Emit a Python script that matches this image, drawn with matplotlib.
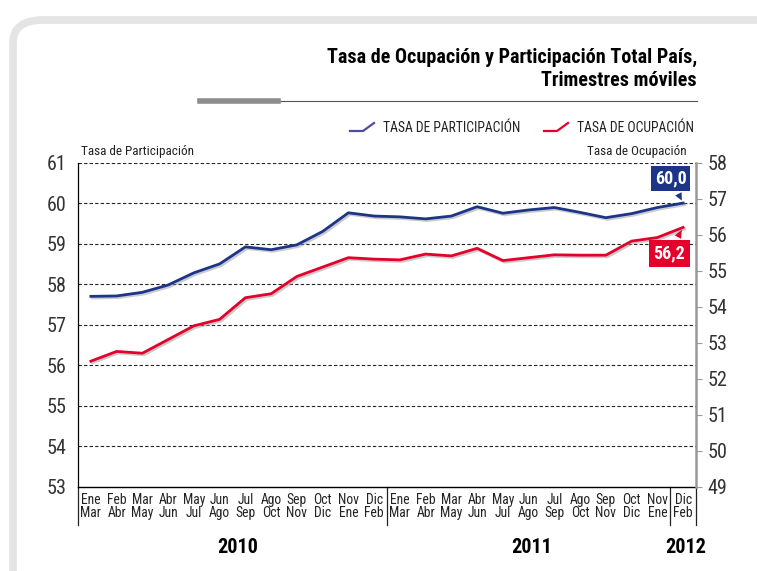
import matplotlib as mpl
import matplotlib.pyplot as plt
import matplotlib.patheffects as pe
from matplotlib.patches import FancyBboxPatch
from matplotlib.lines import Line2D
import numpy as np

mpl.rcParams.update({
    'font.family': ['Liberation Sans Narrow', 'Roboto Condensed', 'Roboto', 'DejaVu Sans'],
    'axes.unicode_minus': False,
})

# periodos (trimestres moviles)
mes_ini = ['Ene', 'Feb', 'Mar', 'Abr', 'May', 'Jun', 'Jul', 'Ago', 'Sep', 'Oct', 'Nov', 'Dic',
           'Ene', 'Feb', 'Mar', 'Abr', 'May', 'Jun', 'Jul', 'Ago', 'Sep', 'Oct', 'Nov', 'Dic']
mes_fin = ['Mar', 'Abr', 'May', 'Jun', 'Jul', 'Ago', 'Sep', 'Oct', 'Nov', 'Dic', 'Ene', 'Feb',
           'Mar', 'Abr', 'May', 'Jun', 'Jul', 'Ago', 'Sep', 'Oct', 'Nov', 'Dic', 'Ene', 'Feb']

# tasa de participacion (eje izquierdo)
participacion = [57.70, 57.71, 57.80, 57.98, 58.28, 58.50, 58.92, 58.85,
                 58.97, 59.30, 59.76, 59.68, 59.66, 59.61, 59.68, 59.91,
                 59.75, 59.83, 59.89, 59.77, 59.64, 59.74, 59.89, 60.0]
# tasa de ocupacion (eje derecho)
ocupacion = [52.49, 52.76, 52.71, 53.09, 53.47, 53.65, 54.25, 54.36,
             54.84, 55.10, 55.36, 55.32, 55.30, 55.46, 55.41, 55.62,
             55.28, 55.36, 55.44, 55.43, 55.43, 55.82, 55.92, 56.2]

anios = ['2010', '2011', '2012']
anio_pos = [5.7, 17.1, 23.1]   # posicion central de cada anio

azul = '#1c3589'
rojo = '#e4002b'

W, H = 757, 571
fig = plt.figure(figsize=(W / 100, H / 100), dpi=100)


def px(x, y):
    return (x / W, 1 - y / H)


# marco gris redondeado
marco = FancyBboxPatch(px(13, 600), 800 / W, 580 / H, transform=fig.transFigure,
                       boxstyle='round,pad=0,rounding_size=0.04',
                       facecolor='white', edgecolor='#e4e4e4', linewidth=5.5, zorder=-5)
fig.patches.append(marco)

# titulo
fig.text(*px(697, 57), 'Tasa de Ocupación y Participación Total País,',
         ha='right', va='center', fontsize=14.5, fontweight='bold')
fig.text(*px(697, 81), 'Trimestres móviles',
         ha='right', va='center', fontsize=14.5, fontweight='bold')
fig.lines.append(Line2D([200 / W, 697 / W], [1 - 101 / H] * 2, transform=fig.transFigure,
                        color='#555555', lw=0.8))
fig.lines.append(Line2D([200 / W, 278 / W], [1 - 101 / H] * 2, transform=fig.transFigure,
                        color='#8c8c8c', lw=4))

# leyenda manual
for (x0, col, txt) in [(350, '#4f4ca6', 'TASA DE PARTICIPACIÓN'),
                       (544, rojo, 'TASA DE OCUPACIÓN')]:
    xs = [x0, x0 + 13, x0 + 24]
    ys = [131, 131, 123]
    fig.lines.append(Line2D([v / W for v in xs], [1 - v / H for v in ys],
                            transform=fig.transFigure, color=col, lw=1.6))
    fig.text(*px(x0 + 33, 128), txt, ha='left', va='center', fontsize=9.8, color='#222222')

ax = fig.add_axes([78 / W, 1 - 487 / H, 618 / W, 324.5 / H])
ax2 = ax.twinx()
ax.set_facecolor('none')
ax2.set_facecolor('none')

x = np.arange(len(participacion))
sombra = [pe.SimpleLineShadow(offset=(1.2, -1.2), shadow_color='#999999', alpha=0.5), pe.Normal()]
ax.plot(x, participacion, color=azul, lw=2, path_effects=sombra, zorder=3)
ax2.plot(x, ocupacion, color=rojo, lw=2, path_effects=sombra, zorder=3)

ax.set_xlim(-0.5, len(x) - 0.5)
ax.set_ylim(53, 61)
ax2.set_ylim(49, 58)
ax.set_yticks(range(53, 62))
ax2.set_yticks(range(49, 59))

for v in range(54, 62):
    ax.axhline(v, color='#222222', lw=0.8, ls=(0, (3, 2)), zorder=1)

for s in ['top']:
    ax.spines[s].set_visible(False)
    ax2.spines[s].set_visible(False)
ax2.spines['left'].set_visible(False)
ax.spines['right'].set_visible(False)
ax2.spines['right'].set_color('#999999')
ax2.spines['right'].set_linewidth(1.8)
ax.spines['left'].set_linewidth(0.9)
ax.spines['bottom'].set_linewidth(1.0)
ax2.spines['bottom'].set_visible(False)

ax.tick_params(axis='y', length=0, labelsize=14.5, pad=8, colors='#333333')
ax2.tick_params(axis='y', length=4, color='#999999', labelsize=14.5, pad=4, labelcolor='#333333')
ax.set_xticks(x)
ax.set_xticklabels([f'{a}\n{b}' for a, b in zip(mes_ini, mes_fin)],
                   fontsize=9.8, linespacing=0.95, color='#222222')
ax.tick_params(axis='x', length=0, pad=4)

ax.text(0.005, 1.015, 'Tasa de Participación', transform=ax.transAxes,
        ha='left', va='bottom', fontsize=9.5, color='#222222')
ax.text(0.985, 1.015, 'Tasa de Ocupación', transform=ax.transAxes,
        ha='right', va='bottom', fontsize=9.5, color='#222222')

# separadores de anio y etiquetas
trans = ax.get_xaxis_transform()
for sep in [-0.5, 11.5, 22.5, 23.5]:
    ax.plot([sep, sep], [0, -0.118], transform=trans, color='#222222', lw=0.9, clip_on=False)
for anio, xc in zip(anios, anio_pos):
    ax.text(xc, -0.185, anio, transform=trans, ha='center', va='center',
            fontsize=14.5, fontweight='bold')

# etiquetas de ultimo valor
ax.annotate(f'{participacion[-1]:.1f}'.replace('.', ','), (x[-1], participacion[-1]),
            xytext=(-9, 11), textcoords='offset points', ha='center', va='bottom',
            fontsize=13, fontweight='bold', color='white',
            bbox=dict(boxstyle='square,pad=0.2', fc=azul, ec='none'),
            arrowprops=dict(arrowstyle='wedge,tail_width=0.4', color=azul, lw=0), zorder=5)
ax2.annotate(f'{ocupacion[-1]:.1f}'.replace('.', ','), (x[-1], ocupacion[-1]),
             xytext=(-10, -12), textcoords='offset points', ha='center', va='top',
             fontsize=13, fontweight='bold', color='white',
             bbox=dict(boxstyle='square,pad=0.25', fc=rojo, ec='none'),
             arrowprops=dict(arrowstyle='wedge,tail_width=0.4', color=rojo, lw=0), zorder=5)

plt.savefig('out.png', dpi=100)
